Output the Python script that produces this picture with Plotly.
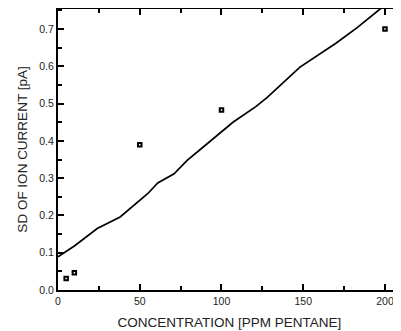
import plotly.graph_objects as go

# Measured points
conc_pts = [5, 10, 50, 100, 200]
sd_pts = [0.031, 0.046, 0.390, 0.483, 0.700]

# Fitted/model line
conc_line = [0, 10, 24, 38, 55, 61, 71, 79, 87, 107, 121, 128, 148, 170, 183, 197, 201]
sd_line = [0.089, 0.118, 0.165, 0.196, 0.259, 0.287, 0.312, 0.348, 0.377, 0.450,
           0.492, 0.517, 0.598, 0.662, 0.704, 0.754, 0.764]

x_ticks = [0, 50, 100, 150, 200]
y_ticks = [0.0, 0.1, 0.2, 0.3, 0.4, 0.5, 0.6, 0.7]
y_labels = ["0.0", "0.1", "0.2", "0.3", "0.4", "0.5", "0.6", "0.7"]

XR = [0, 209.8]
YR = [0, 0.754]

fig = go.Figure()
fig.add_trace(go.Scatter(x=conc_line, y=sd_line, mode="lines",
                         line=dict(color="black", width=1.7), showlegend=False))
fig.add_trace(go.Scatter(x=conc_pts, y=sd_pts, mode="markers",
                         marker=dict(symbol="square-open", size=3.5, color="black",
                                     line=dict(width=2, color="black")),
                         showlegend=False))
# invisible trace for top axis
fig.add_trace(go.Scatter(x=[0], y=[0], xaxis="x2", mode="markers",
                         marker=dict(opacity=0), showlegend=False, hoverinfo="skip"))

fam = "Liberation Sans, Arial, sans-serif"
tc = "#222"
tick_kw = dict(ticks="inside", ticklen=6, tickwidth=1.6, tickcolor="black")
line_kw = dict(showline=True, linecolor="black", linewidth=2, showgrid=False, zeroline=False)

fig.update_layout(
    width=393, height=323,
    margin=dict(l=49.5, r=0, t=1, b=41),
    paper_bgcolor="white", plot_bgcolor="white",
    font=dict(family=fam, color=tc),
    xaxis=dict(range=XR, tickvals=x_ticks, ticktext=[str(v) for v in x_ticks],
               minor=dict(dtick=25, tick0=0, ticks="inside", ticklen=4, tickwidth=1.6, tickcolor="black"),
               tickfont=dict(size=10.5, family=fam, color=tc),
               title=dict(text="CONCENTRATION [PPM PENTANE]", standoff=12,
                          font=dict(size=13.5, family=fam, color=tc)),
               **tick_kw, **line_kw),
    xaxis2=dict(range=XR, overlaying="x", side="top", tickvals=x_ticks, showticklabels=False,
                minor=dict(dtick=25, tick0=0, ticks="inside", ticklen=4, tickwidth=1.6, tickcolor="black"),
                **tick_kw, **line_kw),
    yaxis=dict(range=YR, tickvals=y_ticks, ticktext=y_labels,
               minor=dict(dtick=0.05, tick0=0, ticks="inside", ticklen=4, tickwidth=1.6, tickcolor="black"),
               tickfont=dict(size=10.5, family=fam, color=tc),
               title=dict(text="SD OF ION CURRENT [pA]", standoff=9,
                          font=dict(size=13.5, family=fam, color=tc)),
               **tick_kw, **line_kw),
)

fig.write_html("out.html")
